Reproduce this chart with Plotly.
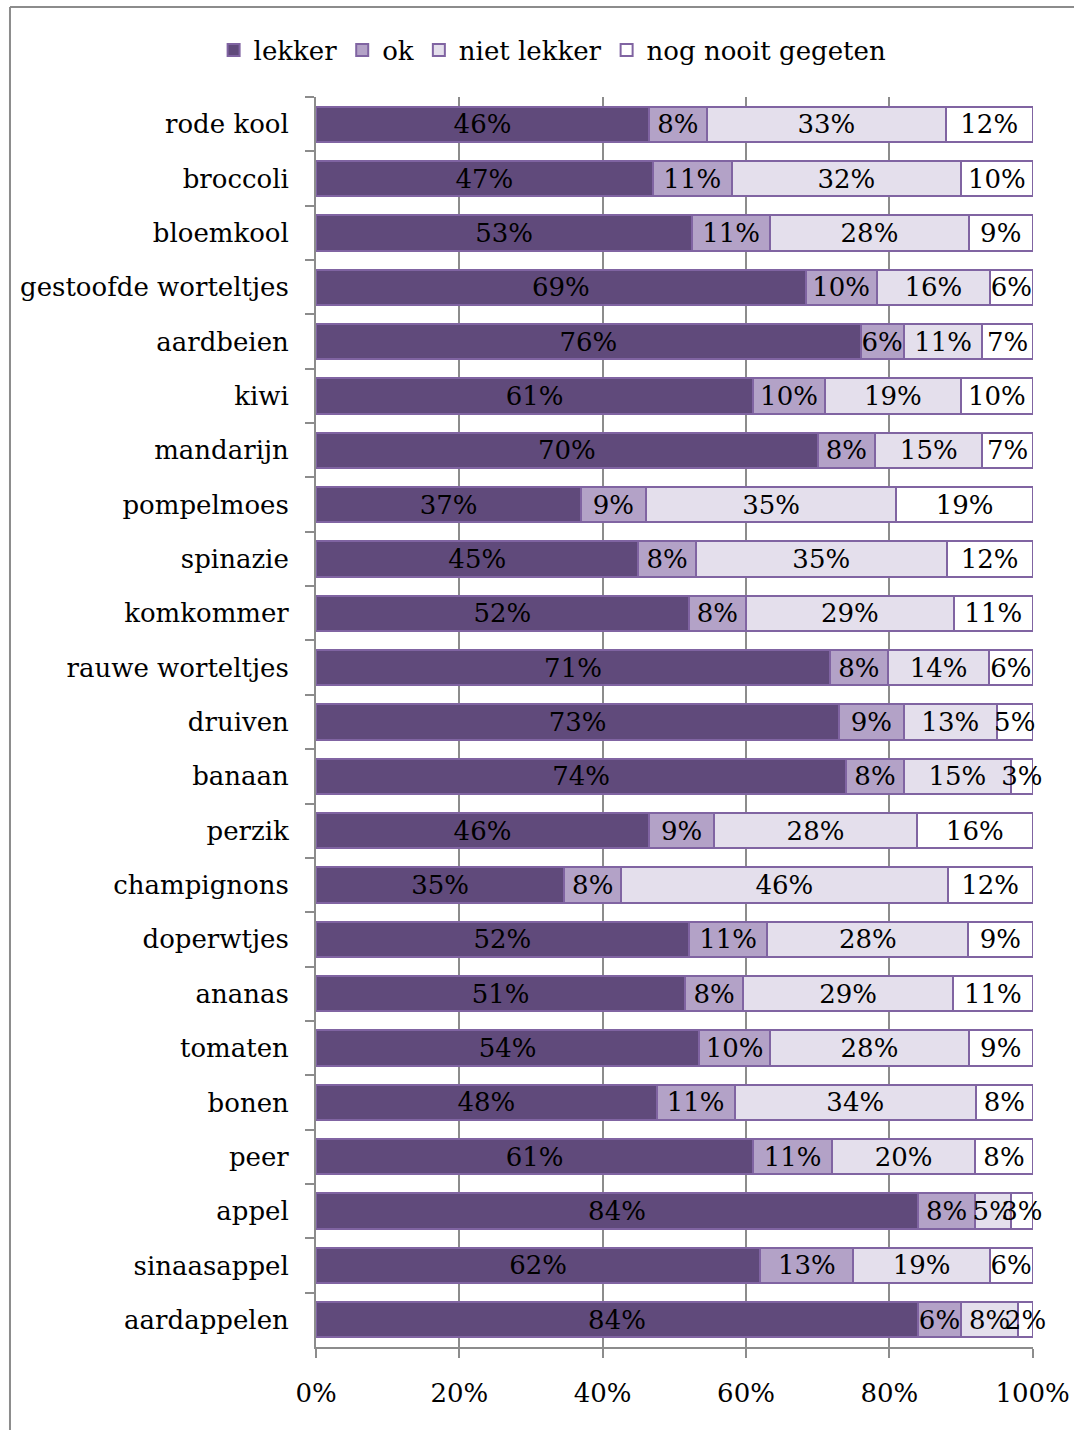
import plotly.graph_objects as go

categories = ["rode kool", "broccoli", "bloemkool", "gestoofde worteltjes", "aardbeien", "kiwi",
              "mandarijn", "pompelmoes", "spinazie", "komkommer", "rauwe worteltjes", "druiven",
              "banaan", "perzik", "champignons", "doperwtjes", "ananas", "tomaten", "bonen",
              "peer", "appel", "sinaasappel", "aardappelen"]
lekker = [46, 47, 53, 69, 76, 61, 70, 37, 45, 52, 71, 73, 74, 46, 35, 52, 51, 54, 48, 61, 84, 62, 84]
ok = [8, 11, 11, 10, 6, 10, 8, 9, 8, 8, 8, 9, 8, 9, 8, 11, 8, 10, 11, 11, 8, 13, 6]
niet_lekker = [33, 32, 28, 16, 11, 19, 15, 35, 35, 29, 14, 13, 15, 28, 46, 28, 29, 28, 34, 20, 5, 19, 8]
nooit = [12, 10, 9, 6, 7, 10, 7, 19, 12, 11, 6, 5, 3, 16, 12, 9, 11, 9, 8, 8, 3, 6, 2]
tick_vals = [0, 20, 40, 60, 80, 100]
tick_text = ["0%", "20%", "40%", "60%", "80%", "100%"]

series = [("lekker", lekker, "#604A7B"), ("ok", ok, "#B3A2C7"),
          ("niet lekker", niet_lekker, "#E4DFEC"), ("nog nooit gegeten", nooit, "#FFFFFF")]

FONT = "DejaVu Serif"
FS = 26
fig = go.Figure()
for name, vals, col in series:
    fig.add_trace(go.Bar(
        y=categories, x=vals, name=name, orientation="h",
        marker=dict(color=col, line=dict(color="#8064A2", width=2)),
        text=[f"{v}%" for v in vals], textposition="inside", insidetextanchor="middle",
        textangle=0, constraintext="none", cliponaxis=False,
        textfont=dict(family=FONT, size=FS, color="black"),
        hoverinfo="skip",
    ))

fig.update_layout(
    barmode="stack", barnorm="percent", bargap=0.35,
    width=1074, height=1430,
    margin=dict(l=316, r=41, t=97, b=83),
    paper_bgcolor="white", plot_bgcolor="white",
    font=dict(family=FONT, size=FS, color="black"),
    showlegend=True,
    legend=dict(orientation="h", x=0.33, xanchor="center", y=1.0376, yanchor="middle",
                font=dict(family=FONT, size=FS), itemwidth=30, traceorder="normal",
                bgcolor="rgba(0,0,0,0)"),
    xaxis=dict(range=[0, 100.05], tickvals=tick_vals, ticktext=tick_text, showgrid=True,
               gridcolor="#8C8C8C", gridwidth=2, showline=True, linecolor="#8C8C8C", linewidth=2,
               ticks="outside", ticklen=9, tickcolor="#8C8C8C", tickwidth=2,
               ticklabelstandoff=13, zeroline=False, fixedrange=True, automargin=False),
    yaxis=dict(categoryorder="array", categoryarray=categories, autorange="reversed",
               showline=True, linecolor="#8C8C8C", linewidth=2, ticks="outside", ticklen=9,
               tickcolor="#8C8C8C", tickwidth=2, tickson="boundaries", showgrid=False,
               ticklabelstandoff=20, fixedrange=True, automargin=False),
    shapes=[
        dict(type="line", xref="paper", yref="paper", x0=-0.4268, x1=1.06, y0=1.072, y1=1.072,
             line=dict(color="#8C8C8C", width=2)),
        dict(type="line", xref="paper", yref="paper", x0=-0.4268, x1=-0.4268, y0=1.072, y1=-0.07,
             line=dict(color="#8C8C8C", width=2)),
    ],
)

fig.write_html("out.html", config={"displayModeBar": False},
               post_script="document.body.style.margin='0';")
